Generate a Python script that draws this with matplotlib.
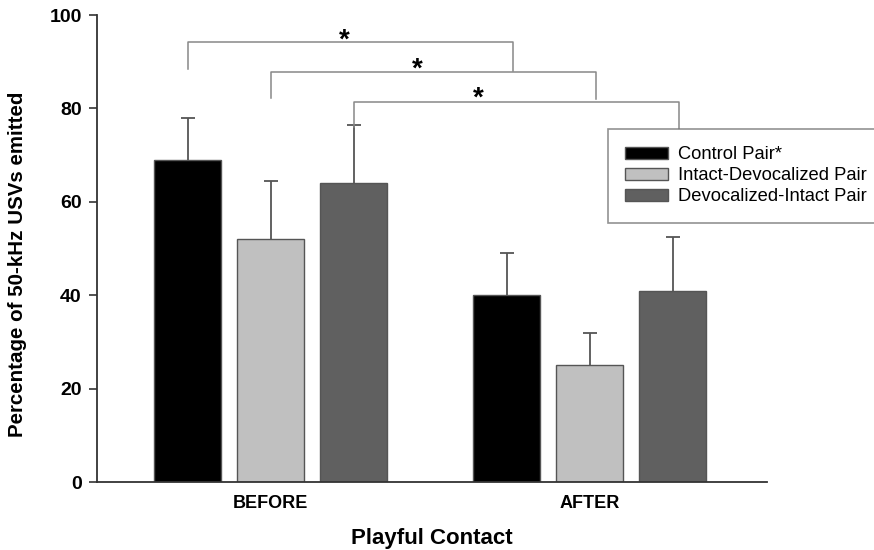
import numpy as np
import matplotlib.pyplot as plt

plt.rcParams['font.family'] = ['Liberation Sans', 'DejaVu Sans']

# data
groups = ["BEFORE", "AFTER"]
series = ["Control Pair*", "Intact-Devocalized Pair", "Devocalized-Intact Pair"]
colors = ["#000000", "#c0c0c0", "#606060"]
means = [[69, 40], [52, 25], [64, 41]]
upper_err = [[9, 9], [12.5, 7], [12.4, 11.4]]

# significance brackets between BEFORE and AFTER of the same series
bracket_series = [0, 1, 2]
bracket_y = [94.2, 87.9, 81.4]
leg_left = [88.5, 82.3, 76.0]
leg_right = [88.0, 82.0, 75.6]
star_x = [0.23, 0.46, 0.65]
star_y = [94.6, 88.4, 82.0]

x = np.arange(len(groups))
offsets = [-0.26, 0.0, 0.26]
width = 0.21
cap = 0.021

fig = plt.figure(figsize=(8.74, 5.5), dpi=100)
ax = fig.add_axes([0.111, 0.1236, 0.7666, 0.8491])

for i in range(len(series)):
    xs = x + offsets[i]
    tops = np.array(means[i]) + np.array(upper_err[i])
    ax.bar(xs, means[i], width, color=colors[i], edgecolor="#555555",
           linewidth=1, label=series[i], zorder=2)
    # only the upper half of the error bar is drawn
    ax.vlines(xs, means[i], tops, color="#555555", lw=1.3, zorder=1)
    ax.hlines(tops, xs - cap, xs + cap, color="#555555", lw=1.3, zorder=1)

for k, s in enumerate(bracket_series):
    xl = x[0] + offsets[s]
    xr = x[1] + offsets[s] + 0.02
    ax.plot([xl, xl, xr, xr], [leg_left[k], bracket_y[k], bracket_y[k], leg_right[k]],
            color="#888888", lw=1.1, clip_on=False)
    ax.text(star_x[k], star_y[k], "*", ha="center", va="center", fontsize=20,
            fontweight="bold")

ax.set_xlim(-0.545, 1.555)
ax.set_ylim(0, 100)
ax.set_yticks(range(0, 101, 20))
ax.set_xticks(x)
ax.set_xticklabels(groups, fontsize=13, fontweight="bold")
ax.tick_params(axis="x", length=0, pad=9)
ax.tick_params(axis="y", length=6, width=1.2, color="#333333", pad=5, labelsize=14)
for lab in ax.get_yticklabels():
    lab.set_fontweight("bold")
for side in ["top", "right"]:
    ax.spines[side].set_visible(False)
for side in ["left", "bottom"]:
    ax.spines[side].set_linewidth(1.3)
    ax.spines[side].set_color("#333333")

ax.set_xlabel("Playful Contact", fontsize=16, fontweight="bold", labelpad=12)
ax.set_ylabel("Percentage of 50-kHz USVs emitted", fontsize=14.8, fontweight="bold")
ax.yaxis.set_label_coords(-0.104, 0.467)

leg = ax.legend(loc="upper left", bbox_to_anchor=(608 / 874, 1 - 129 / 550),
                bbox_transform=fig.transFigure, fontsize=13.2, frameon=True,
                fancybox=False, borderaxespad=0, borderpad=0.95, labelspacing=0.22,
                handlelength=2.3, handleheight=0.7, handletextpad=0.55)
leg.get_frame().set_edgecolor("#777777")
leg.get_frame().set_linewidth(1.2)

fig.savefig("out.png", dpi=100)
